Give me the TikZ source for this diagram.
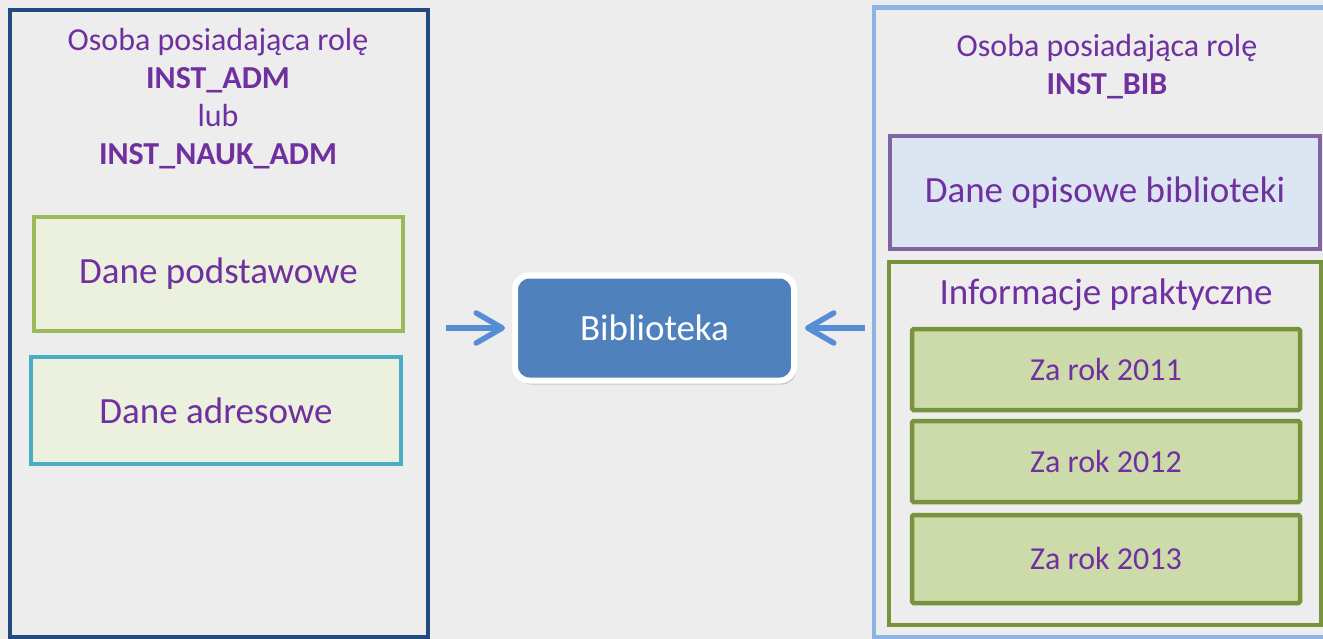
\documentclass[tikz,border=0pt]{standalone}
\usepackage{fontspec}
\setmainfont{Carlito}
\usetikzlibrary{arrows.meta,shadows}
\definecolor{bg}{HTML}{EDEDED}
\definecolor{txt}{HTML}{7030A0}
\definecolor{darkblue}{HTML}{234A7E}
\definecolor{lightblue}{HTML}{8DB3E2}
\definecolor{grn}{HTML}{9BBB59}
\definecolor{grnfill}{HTML}{EBF1DE}
\definecolor{cyanb}{HTML}{4BACC6}
\definecolor{violetb}{HTML}{8064A2}
\definecolor{violetfill}{HTML}{DCE6F2}
\definecolor{olive}{HTML}{77933C}
\definecolor{yearfill}{HTML}{CDDBAB}
\definecolor{bibblue}{HTML}{4F81BD}
\definecolor{arrowblue}{HTML}{558ED5}
\tikzset{
  panel/.style={draw, line width=4.5pt, fill=bg, inner sep=0pt},
  inner/.style={draw, line width=4.5pt, inner sep=0pt, text=txt, font=\fontsize{37}{44}\selectfont},
  yearbox/.style={inner, draw=olive, fill=yearfill, rounded corners=1.5pt, font=\fontsize{32}{38}\selectfont},
  label/.style={text=txt, font=\fontsize{32}{38}\selectfont, align=center, inner sep=0pt},
  bib/.style={draw=white, line width=6pt, fill=bibblue, rounded corners=14pt, text=white,
    font=\fontsize{37}{44}\selectfont, drop shadow={shadow xshift=2pt, shadow yshift=-4pt, opacity=0.35}},
  flow/.style={draw=arrowblue, line width=5.5pt, -{Straight Barb[length=26pt,width=30pt,round]}}
}
\begin{document}
\begin{tikzpicture}[x=1pt,y=-1pt]
\useasboundingbox (0,0) rectangle (1323,639);
\clip (0,0) rectangle (1323,639);
\fill[bg] (0,0) rectangle (1323,639);
% left panel
\node[panel, draw=darkblue, minimum width=418pt, minimum height=627pt] (L) at (219,323.5) {};
\node[label] (Lt) at (218,99) {Osoba posiadająca rolę\\\textbf{INST\_ADM}\\lub\\\textbf{INST\_NAUK\_ADM}};
\node[inner, draw=grn, fill=grnfill, minimum width=369pt, minimum height=114pt] (dp) at (218.5,274) {Dane podstawowe};
\node[inner, draw=cyanb, fill=grnfill, minimum width=370pt, minimum height=107pt] (da) at (216,410.5) {Dane adresowe};
% right panel
\node[panel, draw=lightblue, minimum width=480pt, minimum height=629.5pt] (R) at (1114,322.25) {};
\node[label] (Rt) at (1107,67) {Osoba posiadająca rolę\\\textbf{INST\_BIB}};
\node[inner, draw=violetb, fill=violetfill, minimum width=430pt, minimum height=113pt] (dob) at (1105,192.5) {Dane opisowe biblioteki};
\node[draw=olive, line width=4.5pt, inner sep=0pt, minimum width=432pt, minimum height=363pt] (ip) at (1105,443.5) {};
\node[label, font=\fontsize{37}{44}\selectfont] (ipt) at (1106,295) {Informacje praktyczne};
\node[yearbox, minimum width=388pt, minimum height=81pt] (y1) at (1106,369.5) {Za rok 2011};
\node[yearbox, minimum width=388pt, minimum height=81pt] (y2) at (1106,461.5) {Za rok 2012};
\node[yearbox, minimum width=388pt, minimum height=88pt] (y3) at (1106,559) {Za rok 2013};
% center
\node[bib, minimum width=279pt, minimum height=105pt] (B) at (654.5,328) {Biblioteka};
\draw[flow, shorten <=16pt, shorten >=7pt] (B.west -| L.east) -- (B.west);
\draw[flow, shorten <=7pt, shorten >=8pt] (B.east -| R.west) -- (B.east);
\end{tikzpicture}
\end{document}
